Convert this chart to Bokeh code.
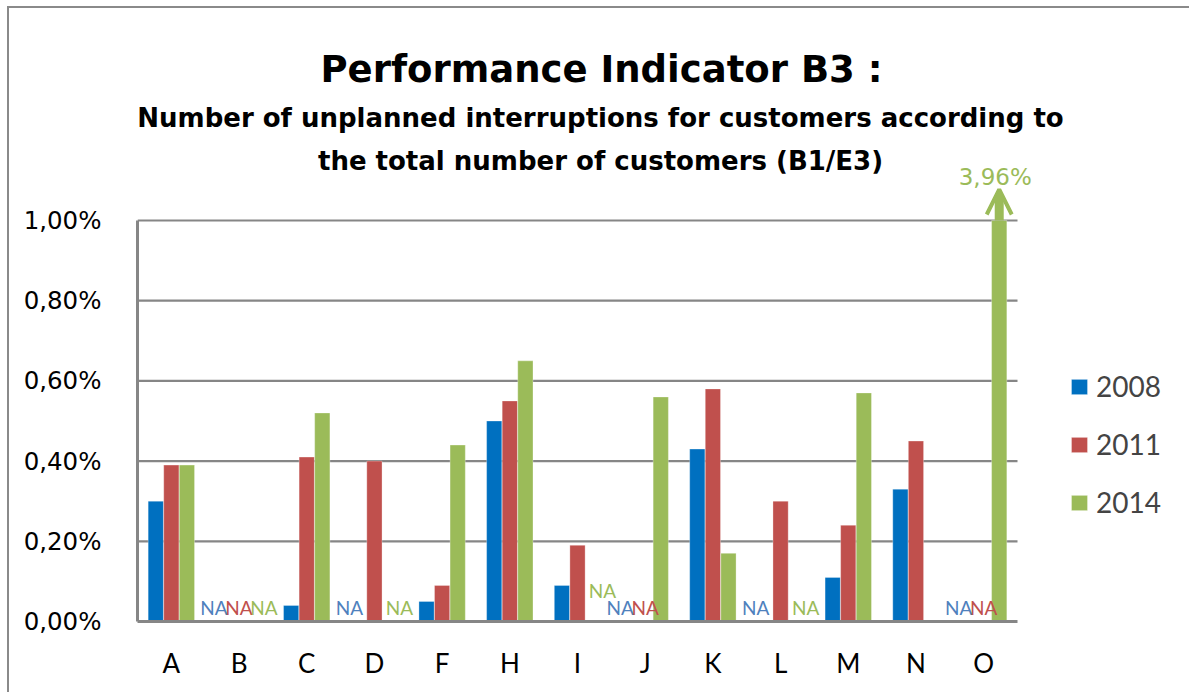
from bokeh.plotting import figure
from bokeh.models import (Range1d, FixedTicker, CustomJSTickFormatter, Legend, LegendItem,
                          Arrow, OpenHead)
from bokeh.core.properties import value
from bokeh.embed import file_html
from bokeh.resources import INLINE

# ---------------- data ----------------
categories = ["A", "B", "C", "D", "F", "H", "I", "J", "K", "L", "M", "N", "O"]
years = ["2008", "2011", "2014"]
# "NA" = labelled as not available, None = nothing shown
v2008 = [0.30, "NA", 0.04, "NA", 0.05, 0.50, 0.09, "NA", 0.43, "NA", 0.11, 0.33, "NA"]
v2011 = [0.39, "NA", 0.41, 0.40, 0.09, 0.55, 0.19, "NA", 0.58, 0.30, 0.24, 0.45, "NA"]
v2014 = [0.39, "NA", 0.52, "NA", 0.44, 0.65, "NA", 0.56, 0.17, "NA", 0.57, None, 3.96]
series = [v2008, v2011, v2014]
yticks = [0.0, 0.2, 0.4, 0.6, 0.8, 1.0]
axis_max = 1.0
title = "Performance Indicator B3 :"
subtitle = ["Number of unplanned interruptions for customers according to",
            "the total number of customers (B1/E3)"]

bar_colors = ["#0070C0", "#C0504D", "#9BBB59"]
na_colors = ["#4F81BD", "#C0504D", "#9BBB59"]
FONT = "Lato"
WIDE = "DejaVu Sans"

# ---------------- layout ----------------
W, H = 1182, 686
LEFT = 128            # frame left inside canvas
RIGHT = 8             # empty border right of frame
FRAME_H = 613         # frame height (frame top at canvas top)
PPX = 880 / 13        # pixels per category
PPY = 401.0           # pixels per 1 %
ORIGIN_X, ORIGIN_Y = 137, 621   # page px of data (0,0)

def px2x(page_x):
    return (page_x - ORIGIN_X) / PPX

def py2y(page_y):
    return (ORIGIN_Y - page_y) / PPY

ncat = len(categories)
p = figure(width=W, height=H, output_backend="svg", toolbar_location=None,
           x_range=Range1d(0, (W - LEFT - RIGHT) / PPX), y_range=Range1d(0, FRAME_H / PPY),
           min_border_left=LEFT, min_border_right=RIGHT, min_border_top=0,
           min_border_bottom=H - FRAME_H)
p.styles = {"border-top": "2px solid #8a8a8a", "border-left": "2px solid #8a8a8a",
            "margin-left": "7px", "margin-top": "6px"}
p.outline_line_color = None
p.xgrid.visible = False
p.ygrid.visible = False
p.background_fill_color = "white"
p.border_fill_color = "white"

# gridlines (at tick values above zero, across category span)
gy = [t for t in yticks if t > 0]
p.segment(x0=[0] * len(gy), x1=[ncat] * len(gy), y0=gy, y1=gy,
          line_color="#868686", line_width=2.2)

# axes
p.yaxis.ticker = FixedTicker(ticks=yticks)
p.yaxis.bounds = (0, axis_max)
p.yaxis.formatter = CustomJSTickFormatter(code="return tick.toFixed(2).replace('.', ',') + '%';")
p.xaxis.ticker = FixedTicker(ticks=[i + 0.5 for i in range(ncat)])
p.xaxis.major_label_overrides = {i + 0.5: c for i, c in enumerate(categories)}
p.xaxis.bounds = (0, ncat)
for ax in (p.xaxis, p.yaxis):
    ax.axis_line_color = "#868686"
    ax.axis_line_width = 3
    ax.major_tick_line_color = None
    ax.minor_tick_line_color = None
    ax.major_label_text_color = "black"
p.yaxis.major_label_text_font = WIDE
p.yaxis.major_label_text_font_size = "24.5px"
p.yaxis.major_label_standoff = 30
p.xaxis.major_label_text_font = FONT
p.xaxis.major_label_text_font_size = "26px"
p.xaxis.major_label_standoff = 19

# bars
offsets = [-0.23, 0.0, 0.23]
bw = 0.225
renderers = []
for k, vals in enumerate(series):
    xs, tops = [], []
    for i, v in enumerate(vals):
        if isinstance(v, (int, float)):
            xs.append(i + 0.5 + offsets[k])
            tops.append(min(v, axis_max))
    r = p.vbar(x=xs, top=tops, width=bw, bottom=0, fill_color=bar_colors[k],
               line_color="white", line_width=0.6, line_alpha=0.5)
    renderers.append(r)

# NA labels
na_dx = [-25, 0, 25]
raised = {("I", "2014")}
for k, vals in enumerate(series):
    xs, ys = [], []
    for i, v in enumerate(vals):
        if v == "NA":
            xs.append(i + 0.5 + na_dx[k] / PPX)
            lift = 31 if (categories[i], years[k]) in raised else 14
            ys.append(lift / PPY)
    p.text(x=xs, y=ys, text=["NA"] * len(xs), text_align="center",
           text_baseline="alphabetic", text_font=value(FONT),
           text_font_size="19px", text_color=na_colors[k])

# overflow arrows
for k, vals in enumerate(series):
    for i, v in enumerate(vals):
        if isinstance(v, (int, float)) and v > axis_max:
            xo = i + 0.5 + offsets[k]
            p.add_layout(Arrow(end=OpenHead(size=25, line_color=bar_colors[k], line_width=4),
                               x_start=xo, y_start=axis_max, x_end=xo,
                               y_end=axis_max + 31 / PPY,
                               line_color=bar_colors[k], line_width=9))
            p.text(x=[xo - 4 / PPX], y=[axis_max + 44 / PPY],
                   text=[f"{v:.2f}".replace(".", ",") + "%"], text_align="center",
                   text_baseline="alphabetic", text_font=value(WIDE),
                   text_font_size="23px", text_color=bar_colors[k])

# titles
p.text(x=[px2x(601)], y=[py2y(69)], text=[title], text_align="center",
       text_baseline="alphabetic", text_font=value(WIDE), text_font_style="bold",
       text_font_size="37px", text_color="black")
p.text(x=[px2x(600), px2x(600)], y=[py2y(117), py2y(160)], text=subtitle,
       text_align="center", text_baseline="alphabetic", text_font=value(WIDE),
       text_font_style="bold", text_font_size="26px", text_color="black")

# legend
legend = Legend(items=[LegendItem(label=y, renderers=[r]) for y, r in zip(years, renderers)],
                location=(1069 - ORIGIN_X, ORIGIN_Y - 522), orientation="vertical",
                glyph_width=20, glyph_height=19, label_height=40, spacing=18,
                label_standoff=7, padding=0, margin=0,
                label_text_font=FONT, label_text_font_size="28px",
                border_line_color=None, background_fill_alpha=0)
p.add_layout(legend)

open("out.html", "w").write(file_html(p, INLINE))
